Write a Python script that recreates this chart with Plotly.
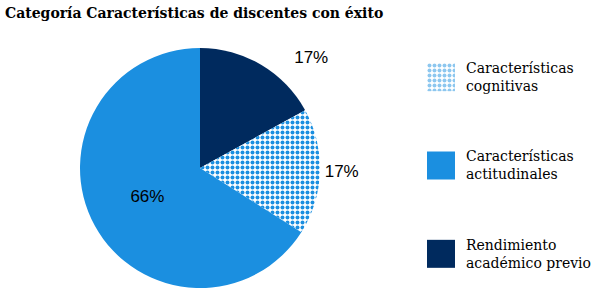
import plotly.graph_objects as go

# ---- data ----
categories = ["Rendimiento<br>académico previo",
              "Características<br>cognitivas",
              "Características<br>actitudinales"]
values = [17, 17, 66]
legend_order = ["Características<br>cognitivas",
                "Características<br>actitudinales",
                "Rendimiento<br>académico previo"]
title_text = "Categoría Características de discentes con éxito"

NAVY = "#002a5e"
BLUE = "#1b8fe0"
colors = {categories[0]: NAVY, categories[1]: "#ffffff", categories[2]: BLUE}
patterns = {categories[0]: "", categories[1]: ".", categories[2]: ""}

W, H = 599, 298

fig = go.Figure()

fig.add_trace(go.Pie(
    labels=categories,
    values=values,
    sort=False,
    direction="clockwise",
    rotation=0,
    marker=dict(
        colors=[colors[c] for c in categories],
        pattern=dict(shape=[patterns[c] for c in categories],
                     fgcolor=BLUE, size=5, solidity=0.5),
        line=dict(width=0),
    ),
    texttemplate=["\u00a0" * 6 + "%{percent:.0%}", "%{percent:.0%}", "%{percent:.0%}"],
    textposition=["outside", "outside", "inside"],
    textfont=dict(family="Liberation Sans, Arial", size=17, color="#000000"),
    insidetextfont=dict(family="Liberation Sans, Arial", size=17, color="#000000"),
    outsidetextfont=dict(family="Liberation Sans, Arial", size=17, color="#000000"),
    domain=dict(x=[80 / W, 320 / W], y=[1 - 288 / H, 1 - 48 / H]),
    showlegend=False,
    hoverinfo="label+percent",
))

# legend swatches drawn as small bars on their own axes (patterned and plain)
patterned = [c for c in legend_order if patterns[c]]
plain = [c for c in legend_order if not patterns[c]]

fig.add_trace(go.Bar(
    x=[1] * len(plain), y=plain, orientation="h",
    marker=dict(color=[colors[c] for c in plain], line=dict(width=0)),
    xaxis="x2", yaxis="y2", showlegend=False, hoverinfo="skip",
))
fig.add_trace(go.Bar(
    x=[1] * len(patterned), y=patterned, orientation="h",
    marker=dict(color="#ffffff", line=dict(width=0),
                pattern=dict(shape=".", fgcolor=BLUE, bgcolor="#ffffff",
                             size=5, solidity=0.5)),
    xaxis="x2", yaxis="y2", showlegend=False, hoverinfo="skip",
))

fig.update_layout(
    width=W, height=H,
    margin=dict(l=0, r=0, t=0, b=0),
    paper_bgcolor="white", plot_bgcolor="rgba(0,0,0,0)",
    barmode="overlay",
    bargap=0.683,
    title=dict(text=title_text, x=5 / W, xanchor="left", y=1 - 13 / H, yanchor="middle",
               font=dict(family="DejaVu Serif", size=14, color="#000000", weight="bold")),
    xaxis2=dict(domain=[427 / W, 455 / W], range=[0, 1], visible=False, fixedrange=True),
    yaxis2=dict(domain=[0, 1 - 33 / H], anchor="x2", side="right", type="category",
                categoryorder="array", categoryarray=legend_order, autorange="reversed",
                showgrid=False, zeroline=False, showline=False, ticks="",
                ticklabelstandoff=10, fixedrange=True,
                tickfont=dict(family="DejaVu Serif", size=14, color="#000000")),
)

fig.write_html("out.html",
               config={"displayModeBar": False},
               post_script="document.body.style.margin='0';document.body.style.overflow='hidden';")
